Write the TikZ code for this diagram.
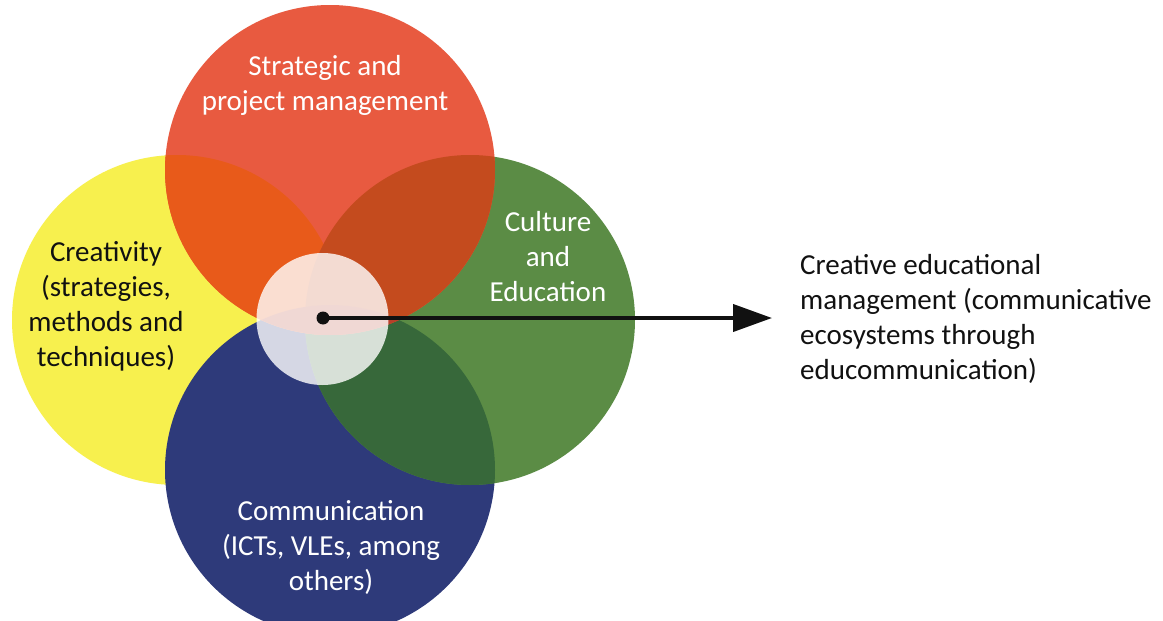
\documentclass[tikz,border=0pt]{standalone}
\usepackage{fontspec}
\setmainfont{Carlito}
\usetikzlibrary{arrows.meta}
\definecolor{cyellow}{HTML}{F7F04E}
\definecolor{cred}{HTML}{E85A40}
\definecolor{cgreen}{HTML}{5B8C45}
\definecolor{cblue}{HTML}{2E3A7A}
\definecolor{cry}{HTML}{E85A1A}
\definecolor{crg}{HTML}{C44B1E}
\definecolor{cbg}{HTML}{37683A}
\definecolor{crb}{HTML}{B8402A}
\definecolor{ctext}{HTML}{111111}
\tikzset{
  lbl/.style={font=\fontsize{29}{35}\selectfont, align=center, inner sep=0pt},
  wlbl/.style={lbl, text=white},
  klbl/.style={lbl, text=ctext},
}
\begin{document}
\begin{tikzpicture}[x=1pt,y=-1pt]
\useasboundingbox (0,0) rectangle (1163,621);
\fill[white] (0,0) rectangle (1163,621);
\begin{scope}
\clip (0,0) rectangle (1163,621);
\def\R{165}
\coordinate (cy) at (177,320);
\coordinate (cr) at (330,170);
\coordinate (cg) at (470,320);
\coordinate (cb) at (330,470);
\fill[cyellow] (cy) circle (\R);
\fill[cblue] (cb) circle (\R);
\fill[cgreen] (cg) circle (\R);
\begin{scope}
  \clip (cg) circle (\R);
  \fill[cbg] (cb) circle (\R);
\end{scope}
\fill[cred] (cr) circle (\R);
\begin{scope}
  \clip (cr) circle (\R);
  \fill[cry] (cy) circle (\R);
  \fill[crg] (cg) circle (\R);
  \fill[crb] (cb) circle (\R);
\end{scope}
\end{scope}
\node[circle, fill=white, fill opacity=0.8, minimum size=132pt, inner sep=0pt] (center) at (322.5,319) {};
\node[circle, fill=ctext, minimum size=13pt, inner sep=0pt] (dot) at (323,318) {};
\node[klbl, align=left, anchor=west] (result) at (800,318.5) {Creative educational\\management (communicative\\ecosystems through\\educommunication)};
\coordinate (tip) at (772,318);
\draw[line width=4pt, ctext, -{Triangle[length=39pt,width=27pt]}] (dot.center) -- (tip);
\node[wlbl] (red) at (325,85.5) {Strategic and\\project management};
\node[klbl] (yellow) at (106,306) {Creativity\\(strategies,\\methods and\\techniques)};
\node[wlbl] (green) at (548,257) {Culture\\and\\Education};
\node[wlbl] (blue) at (331,547.5) {Communication\\(ICTs, VLEs, among\\others)};
\end{tikzpicture}
\end{document}
